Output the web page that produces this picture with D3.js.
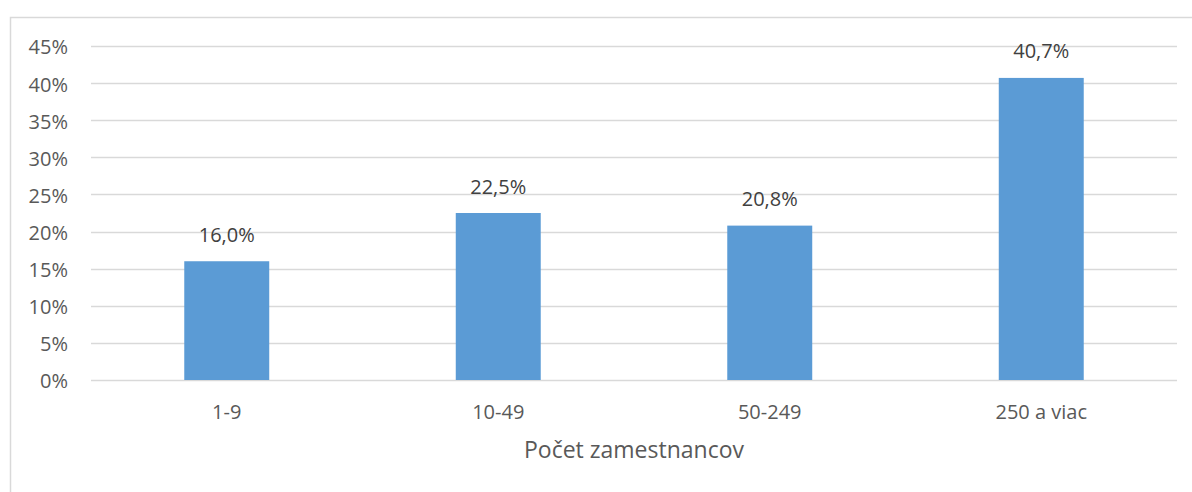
<!DOCTYPE html>
<html>
<head>
<meta charset="utf-8">
<script src="https://cdn.jsdelivr.net/npm/d3@7"></script>
<style>
  html, body { margin: 0; padding: 0; background: #fff; }
  svg { display: block; font-family: "Open Sans", "Noto Sans", sans-serif; }
</style>
</head>
<body>
<svg id="chart" width="1192" height="492"></svg>
<script>
// Share of companies by employee-count bracket
const categories = ["1-9", "10-49", "50-249", "250 a viac"];
const values = [16.0, 22.5, 20.8, 40.7];
const yTicks = [0, 5, 10, 15, 20, 25, 30, 35, 40, 45];
const axisTitle = "Počet zamestnancov";

const svg = d3.select("#chart");
const plot = { left: 91, right: 1177, top: 46, bottom: 380 };

// outer frame of the chart area (open to the right and bottom)
svg.append("path")
  .attr("d", "M10.5,492 L10.5,17.5 L1192,17.5")
  .attr("fill", "none")
  .attr("stroke", "#d9d9d9")
  .attr("stroke-width", 1.5);

const x = d3.scaleBand()
  .domain(categories)
  .range([plot.left, plot.right])
  .paddingInner(0.687)
  .paddingOuter(0.3435);

const y = d3.scaleLinear()
  .domain([0, 45])
  .range([plot.bottom, plot.top]);

const fmt = v => d3.format(".1f")(v).replace(".", ",") + "%";

// horizontal gridlines
svg.append("g")
  .selectAll("line")
  .data(yTicks)
  .join("line")
  .attr("x1", plot.left)
  .attr("x2", plot.right)
  .attr("y1", d => Math.round(y(d)) + 0.5)
  .attr("y2", d => Math.round(y(d)) + 0.5)
  .attr("stroke", "#d9d9d9")
  .attr("stroke-width", 1.3);

// y tick labels
svg.append("g")
  .selectAll("text")
  .data(yTicks)
  .join("text")
  .attr("x", 68)
  .attr("y", d => y(d))
  .attr("dy", "0.42em")
  .attr("text-anchor", "end")
  .attr("font-size", 20)
  .attr("fill", "#595959")
  .text(d => d + "%");

// bars
svg.append("g")
  .selectAll("rect")
  .data(values)
  .join("rect")
  .attr("x", (d, i) => x(categories[i]))
  .attr("width", x.bandwidth())
  .attr("y", d => y(d))
  .attr("height", d => y(0) - y(d))
  .attr("fill", "#5b9bd5");

// value labels above bars
svg.append("g")
  .selectAll("text")
  .data(values)
  .join("text")
  .attr("x", (d, i) => x(categories[i]) + x.bandwidth() / 2)
  .attr("y", d => y(d) - 19.5)
  .attr("text-anchor", "middle")
  .attr("font-size", 20)
  .attr("fill", "#404040")
  .text(fmt);

// category labels
svg.append("g")
  .selectAll("text")
  .data(categories)
  .join("text")
  .attr("x", d => x(d) + x.bandwidth() / 2)
  .attr("y", 418.5)
  .attr("text-anchor", "middle")
  .attr("font-size", 20)
  .attr("fill", "#595959")
  .text(d => d);

// axis title
svg.append("text")
  .attr("x", (plot.left + plot.right) / 2)
  .attr("y", 458)
  .attr("text-anchor", "middle")
  .attr("font-size", 23)
  .attr("fill", "#595959")
  .text(axisTitle);
</script>
</body>
</html>
